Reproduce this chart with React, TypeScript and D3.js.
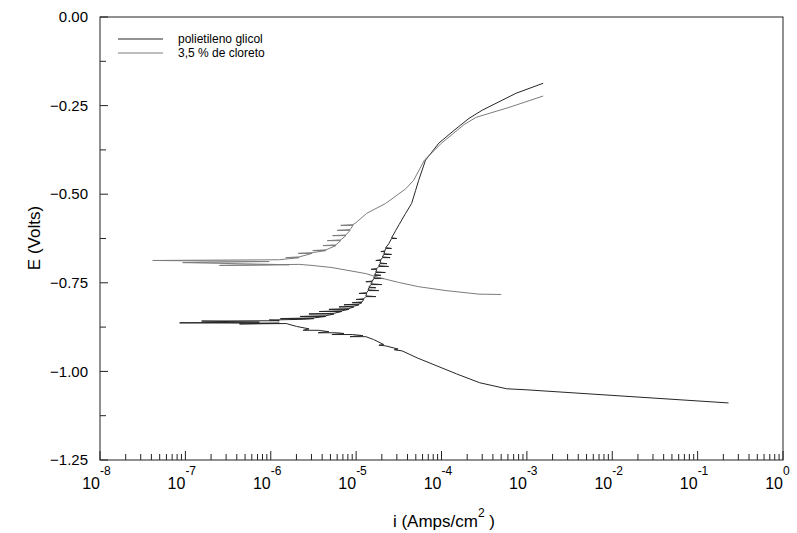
import * as d3 from 'd3'

// Polarisation curves, values as [current density i (A/cm²), potential E (V)]
const pegCurve: [number, number][] = [
  [2.3e-1, -1.089], [1.0e-3, -1.052], [5.8e-4, -1.049], [2.8e-4, -1.032],
  [1.5e-4, -1.007], [5.2e-5, -0.962], [3.45e-5, -0.942], [2.8e-5, -0.939],
  [3.1e-5, -0.937], [2.22e-5, -0.928], [1.85e-5, -0.926], [2.1e-5, -0.924],
  [1.6e-5, -0.91], [1.3e-5, -0.902], [8.5e-6, -0.902], [1.2e-5, -0.899],
  [9.0e-6, -0.896], [5.2e-6, -0.896], [7.2e-6, -0.893], [5.81e-6, -0.891],
  [3.6e-6, -0.891], [4.8e-6, -0.888], [3.6e-6, -0.884], [2.4e-6, -0.884],
  [2.81e-6, -0.88], [2.0e-6, -0.873], [1.52e-6, -0.865], [4.3e-7, -0.866],
  [1.26e-6, -0.864], [8.57e-8, -0.863], [7.35e-7, -0.861], [1.55e-7, -0.858],
  [1.26e-6, -0.857], [9.6e-7, -0.855], [2.4e-6, -0.853],
  [3.2e-6, -0.851], [1.3e-6, -0.851], [3.2e-6, -0.849],
  [4.4e-6, -0.845], [2.2e-6, -0.845], [4.4e-6, -0.843],
  [5.5e-6, -0.838], [2.8e-6, -0.838], [5.5e-6, -0.836],
  [6.8e-6, -0.831], [3.7e-6, -0.831], [6.8e-6, -0.829],
  [8.2e-6, -0.825], [4.8e-6, -0.825], [8.2e-6, -0.823],
  [9.4e-6, -0.818], [6.3e-6, -0.818], [9.4e-6, -0.816],
  [1.08e-5, -0.812], [7.2e-6, -0.812], [1.08e-5, -0.81],
  [1.17e-5, -0.806], [9.0e-6, -0.806], [1.17e-5, -0.804],
  [1.23e-5, -0.797], [1.0e-5, -0.797], [1.23e-5, -0.795],
  [1.3e-5, -0.789], [1.7e-5, -0.789], [1.3e-5, -0.787],
  [1.33e-5, -0.78], [1.08e-5, -0.78], [1.33e-5, -0.778],
  [1.38e-5, -0.772], [1.84e-5, -0.772], [1.38e-5, -0.77],
  [1.41e-5, -0.764], [1.7e-5, -0.764], [1.41e-5, -0.762],
  [1.49e-5, -0.755], [2.0e-5, -0.755], [1.49e-5, -0.753],
  [1.55e-5, -0.747], [1.3e-5, -0.747], [1.55e-5, -0.745],
  [1.61e-5, -0.738], [2.11e-5, -0.738], [1.61e-5, -0.736],
  [1.65e-5, -0.729], [1.95e-5, -0.729], [1.65e-5, -0.727],
  [1.7e-5, -0.721], [2.2e-5, -0.721], [1.7e-5, -0.719],
  [1.75e-5, -0.712], [1.5e-5, -0.712], [1.75e-5, -0.71],
  [1.84e-5, -0.704], [2.4e-5, -0.704], [1.84e-5, -0.702],
  [1.9e-5, -0.696], [2.3e-5, -0.696], [1.9e-5, -0.694],
  [1.95e-5, -0.687], [1.7e-5, -0.687], [1.95e-5, -0.685],
  [2.03e-5, -0.679], [2.5e-5, -0.679], [2.03e-5, -0.677],
  [2.11e-5, -0.67], [2.6e-5, -0.67], [2.11e-5, -0.668],
  [2.17e-5, -0.662], [1.95e-5, -0.662], [2.17e-5, -0.66],
  [2.22e-5, -0.653], [2.6e-5, -0.653], [2.22e-5, -0.651],
  [2.41e-5, -0.64], [2.6e-5, -0.625], [3.0e-5, -0.625], [2.6e-5, -0.623],
  [2.8e-5, -0.61], [2.91e-5, -0.602], [3.2e-5, -0.585], [3.8e-5, -0.554],
  [4.47e-5, -0.526], [4.98e-5, -0.489], [5.4e-5, -0.461], [6.5e-5, -0.404],
  [9.3e-5, -0.356], [1.4e-4, -0.32], [2.1e-4, -0.286], [3.0e-4, -0.263],
  [7.5e-4, -0.215], [1.55e-3, -0.187],
]

const chlorideCurve: [number, number][] = [
  [5.0e-4, -0.783], [2.75e-4, -0.782], [1.13e-4, -0.772], [5.4e-5, -0.761],
  [3.16e-5, -0.749], [1.84e-5, -0.735], [1.3e-5, -0.724], [5.21e-6, -0.707],
  [3.05e-6, -0.701], [2.15e-6, -0.698], [2.51e-7, -0.701], [1.64e-6, -0.699],
  [9.3e-8, -0.693], [9.6e-7, -0.69], [4.15e-8, -0.687], [1.26e-6, -0.685],
  [2.15e-6, -0.679], [1.5e-6, -0.679], [2.15e-6, -0.677],
  [3.05e-6, -0.667], [2.1e-6, -0.667], [3.05e-6, -0.665],
  [4.44e-6, -0.659], [3.1e-6, -0.659], [4.44e-6, -0.657],
  [5.8e-6, -0.645], [4.1e-6, -0.645], [5.8e-6, -0.643],
  [6.6e-6, -0.631], [4.6e-6, -0.631], [6.6e-6, -0.629],
  [7.6e-6, -0.617], [5.3e-6, -0.617], [7.6e-6, -0.615],
  [8.5e-6, -0.602], [6.0e-6, -0.602], [8.5e-6, -0.6],
  [9.2e-6, -0.588], [6.6e-6, -0.588], [9.2e-6, -0.586],
  [1.0e-5, -0.58], [1.14e-5, -0.568], [1.33e-5, -0.554], [2.22e-5, -0.526],
  [3.8e-5, -0.485], [4.71e-5, -0.461], [6.3e-5, -0.404], [1.0e-4, -0.356],
  [1.85e-4, -0.303], [2.55e-4, -0.283], [6.2e-4, -0.255], [1.55e-3, -0.223],
]

const seriesNames = ['polietileno glicol', '3,5 % de cloreto']
const seriesColours = ['#262626', '#7c7c7c']
const yTicks = [0, -0.25, -0.5, -0.75, -1, -1.25]
const yMinorTicks = [-0.125, -0.375, -0.625, -0.875, -1.125]
const xDecades = [-8, -7, -6, -5, -4, -3, -2, -1, 0]

const W = 797
const H = 533
const plot = { left: 100, right: 783, top: 17, bottom: 460 }
const font = '"Liberation Sans", Arial, sans-serif'

export default function App() {
  const x = d3.scaleLog().domain([1e-8, 1]).range([plot.left, plot.right])
  const y = d3.scaleLinear().domain([-1.25, 0]).range([plot.bottom, plot.top])

  const line = d3.line<[number, number]>()
    .x(d => x(d[0]))
    .y(d => y(d[1]))

  // minor log ticks 2..9 within each decade
  const xMinor: number[] = []
  xDecades.slice(0, -1).forEach(dec => {
    for (let k = 2; k <= 9; k++) xMinor.push(k * Math.pow(10, dec))
  })

  const fmt = d3.format('.2f')

  return (
    <svg width={W} height={H} style={{ position: 'absolute', left: 0, top: 0, background: '#fff' }}
      fontFamily={font}>
      {/* plot frame */}
      <rect x={plot.left} y={plot.top} width={plot.right - plot.left} height={plot.bottom - plot.top}
        fill="none" stroke="#222" strokeWidth={1} />

      {/* y ticks */}
      {yTicks.map(t => (
        <g key={'y' + t}>
          <line x1={plot.left} x2={plot.left + 8} y1={y(t)} y2={y(t)} stroke="#222" />
          <text x={plot.left - 12} y={y(t)} dy="0.35em" textAnchor="end" fontSize={15}>{fmt(t)}</text>
        </g>
      ))}
      {yMinorTicks.map(t => (
        <line key={'ym' + t} x1={plot.left} x2={plot.left + 6} y1={y(t)} y2={y(t)} stroke="#222" />
      ))}

      {/* x ticks */}
      {xDecades.map(dec => {
        const px = x(Math.pow(10, dec))
        return (
          <g key={'x' + dec}>
            <line x1={px} x2={px} y1={plot.bottom} y2={plot.bottom - 9} stroke="#222" />
            <text x={px} y={489} textAnchor="end" fontSize={16}>10</text>
            <text x={px} y={475} textAnchor="start" fontSize={12}>{dec}</text>
          </g>
        )
      })}
      {xMinor.map((v, i) => (
        <line key={'xm' + i} x1={x(v)} x2={x(v)} y1={plot.bottom} y2={plot.bottom - 6} stroke="#222" />
      ))}

      {/* axis titles */}
      <text transform="translate(40,238) rotate(-90)" textAnchor="middle" fontSize={17}>E (Volts)</text>
      <text x={444} y={527} textAnchor="middle" fontSize={17}>
        i (Amps/cm<tspan dy={-10} fontSize={12}>2</tspan><tspan dy={10}> )</tspan>
      </text>

      {/* curves */}
      <path d={line(pegCurve) ?? ''} fill="none" stroke={seriesColours[0]} strokeWidth={1} />
      <path d={line(chlorideCurve) ?? ''} fill="none" stroke={seriesColours[1]} strokeWidth={1} />

      {/* legend */}
      {seriesNames.map((name, i) => (
        <g key={name} transform={`translate(118,${39 + i * 14})`}>
          <line x1={0} x2={45} y1={0} y2={0} stroke={seriesColours[i]} strokeWidth={1} />
          <text x={60} y={0} dy="0.35em" fontSize={12}>{name}</text>
        </g>
      ))}
    </svg>
  )
}
